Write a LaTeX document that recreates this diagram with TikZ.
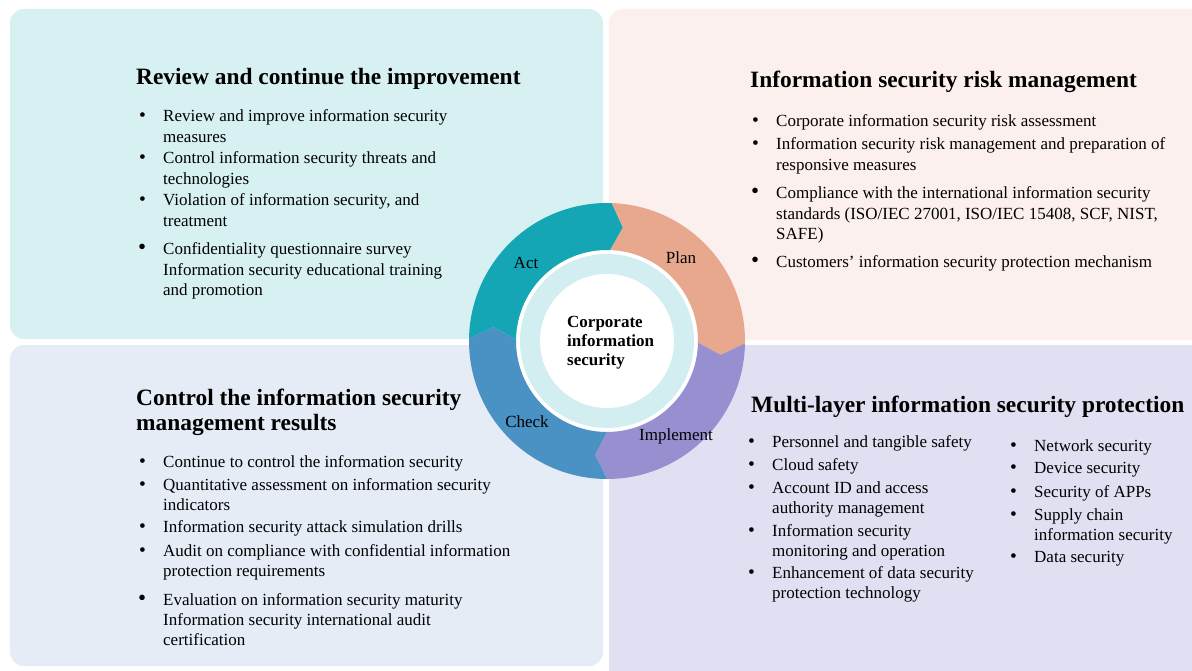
\documentclass[tikz,border=0pt]{standalone}
\usepackage{fontspec}
\setmainfont{Liberation Serif}
\definecolor{tlc}{HTML}{D7F1F3}
\definecolor{trc}{HTML}{FCF0EE}
\definecolor{blc}{HTML}{E5ECF6}
\definecolor{brc}{HTML}{E1E0F3}
\definecolor{actc}{HTML}{14A6B4}
\definecolor{planc}{HTML}{E8A88E}
\definecolor{implc}{HTML}{968FD0}
\definecolor{checkc}{HTML}{4B92C4}
\definecolor{bandc}{HTML}{D3EEF1}
\tikzset{
  quad/.style={rounded corners=14pt},
  itemtext/.style={anchor=base west, inner sep=0pt, font=\fontsize{17}{20.4}\selectfont},
  dotnode/.style={anchor=base west, inner sep=0pt, font=\fontsize{19.5}{20.4}\selectfont},
  bigdot/.style={anchor=base west, inner sep=0pt, font=\fontsize{23}{20.4}\selectfont},
  titletext/.style={anchor=base west, inner sep=0pt, font=\fontsize{23.4}{25}\selectfont\bfseries},
  lbl/.style={anchor=base, inner sep=0pt, font=\fontsize{17}{20}\selectfont},
  centertext/.style={anchor=base west, inner sep=0pt, font=\fontsize{17}{19}\selectfont\bfseries},
}
\newcommand{\ml}[1]{\begin{tabular}[t]{@{}l@{}}#1\end{tabular}}
\newcommand{\bitem}[4]{%
  \node[itemtext] (#1) at (#2,#3) {\ml{#4}};
  \node[dotnode] (#1d) at (#2-24,#3) {\textbullet};}
\newcommand{\bitemB}[4]{%
  \node[itemtext] (#1) at (#2,#3) {\ml{#4}};
  \node[bigdot] (#1d) at (#2-25,#3) {\textbullet};}
\newcommand{\ringseg}[3]{%
  \fill[#3] (#1:138) arc[start angle=#1, end angle=#2, radius=138]
    -- (#2+6:114.5) -- (#2:91) arc[start angle=#2, end angle=#1, radius=91]
    -- (#1+6:114.5) -- cycle;}
\begin{document}
\begin{tikzpicture}[x=1pt,y=-1pt]
\useasboundingbox (0,0) rectangle (1192,671);
\fill[white] (0,0) rectangle (1192,671);
% quadrants
\fill[tlc,quad] (10,9) rectangle (603,339);
\fill[trc,quad] (609,9) rectangle (1210,340);
\fill[blc,quad] (10,345) rectangle (603,666);
\fill[brc,quad] (609,345) rectangle (1210,690);
% ring
\begin{scope}[shift={(607,341)}]
  \fill[white] (0,0) circle[radius=91];
  \fill[bandc] (0,0) circle[radius=87];
  \fill[white] (0,0) circle[radius=67];
  \ringseg{-179}{-88}{actc}
  \ringseg{-88}{1}{planc}
  \ringseg{1}{90}{implc}
  \ringseg{90}{181}{checkc}
\end{scope}
\node[lbl] (act) at (526,269) {Act};
\node[lbl] (plan) at (681,264) {Plan};
\node[lbl] (impl) at (676,440) {Implement};
\node[lbl] (check) at (527,427) {Check};
\node[centertext] (core) at (567,327) {\ml{Corporate\\information\\security}};
% top left
\node[titletext] (tlT) at (136,85) {Review and continue the improvement};
\bitem{tl1}{163}{122}{Review and improve information security\\measures}
\bitem{tl2}{163}{164}{Control information security threats and\\technologies}
\bitem{tl3}{163}{206}{Violation of information security, and\\treatment}
\bitemB{tl4}{163}{255}{Confidentiality questionnaire survey\\Information security educational training\\and promotion}
% top right
\node[titletext] (trT) at (750,88) {Information security risk management};
\bitem{tr1}{776}{127}{Corporate information security risk assessment}
\bitem{tr2}{776}{150}{Information security risk management and preparation of\\responsive measures}
\bitemB{tr3}{776}{199}{Compliance with the international information security\\standards (ISO/IEC 27001, ISO/IEC 15408, SCF, NIST,\\SAFE)}
\bitemB{tr4}{776}{268}{Customers’ information security protection mechanism}
% bottom left
\node[titletext] (blT) at (136,405) {\ml{Control the information security\\management results}};
\bitem{bl1}{163}{467}{Continue to control the information security}
\bitem{bl2}{163}{490}{Quantitative assessment on information security\\indicators}
\bitem{bl3}{163}{532}{Information security attack simulation drills}
\bitem{bl4}{163}{556}{Audit on compliance with confidential information\\protection requirements}
\bitemB{bl5}{163}{605}{Evaluation on information security maturity\\Information security international audit\\certification}
% bottom right
\node[titletext] (brT) at (751,412) {Multi-layer information security protection};
\bitem{br1}{772}{447}{Personnel and tangible safety}
\bitem{br2}{772}{470}{Cloud safety}
\bitem{br3}{772}{493}{Account ID and access\\authority management}
\bitem{br4}{772}{536}{Information security\\monitoring and operation}
\bitem{br5}{772}{578}{Enhancement of data security\\protection technology}
\bitem{br6}{1034}{451}{Network security}
\bitem{br7}{1034}{473}{Device security}
\bitem{br8}{1034}{497}{Security of APPs}
\bitem{br9}{1034}{520}{Supply chain\\information security}
\bitem{br10}{1034}{562}{Data security}
\end{tikzpicture}
\end{document}
